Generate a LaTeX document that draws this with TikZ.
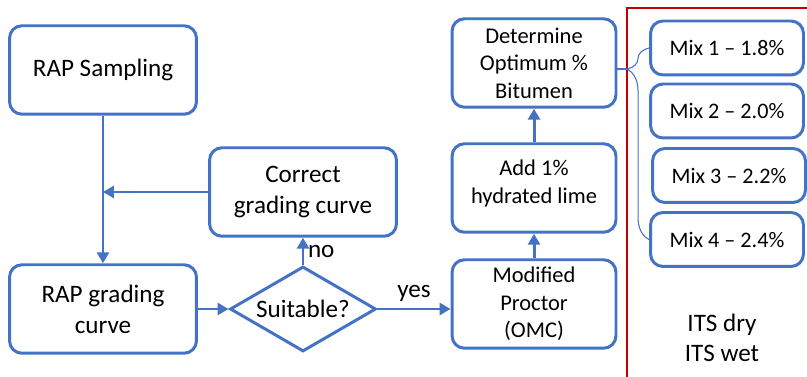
\documentclass[tikz,border=0pt]{standalone}
\usepackage{fontspec}
\setmainfont{Carlito}
\usepackage{xcolor}
\usetikzlibrary{arrows.meta}
\usetikzlibrary{shapes.geometric}
\usetikzlibrary{decorations.pathreplacing, math}
\definecolor{myblue}{RGB}{68,114,196}
\definecolor{myred}{RGB}{192,0,0}

\tikzset{
  box/.style={draw=myblue, line width=1.7pt, rounded corners=0.25cm, fill=white, align=center, inner sep=2pt},
  leftbox/.style={box, minimum width=3.74cm, minimum height=1.77cm, font=\fontsize{14.3}{17.5}\selectfont},
  rightbox/.style={box, minimum width=3.28cm, minimum height=1.77cm, font=\fontsize{12.8}{15.6}\selectfont},
  mixbox/.style={box, minimum width=3.06cm, minimum height=1.08cm, font=\fontsize{12.6}{15}\selectfont},
  flow/.style={draw=myblue, line width=1.7pt, -{Triangle[length=0.22cm,width=0.24cm]}},
}

\begin{document}
\begin{tikzpicture}[x=0.02cm, y=-0.02cm]
\useasboundingbox (0,0) rectangle (807,377);

% red frame round the test mixes
\draw[line width=1.5pt, color=myred] (807,8) -- (627,8) -- (627,377);

\node[leftbox] (samp) at (103,70) {RAP Sampling};
\node[leftbox] (corr) at (303,192) {Correct\\grading curve};
\node[leftbox] (grad) at (103,309) {RAP grading\\curve};
\node[draw=myblue, line width=1.7pt, fill=white, diamond, aspect=1.72, inner sep=0pt,
      minimum width=2.92cm, minimum height=1.7cm, font=\fontsize{14.3}{17.5}\selectfont] (suit) at (303,309) {Suitable?};

\node[rightbox] (proc) at (534,304) {Modified\\Proctor\\(OMC)};
\node[rightbox, text depth=0.25cm] (lime) at (534,188) {Add 1\%\\hydrated lime};
\node[rightbox] (opt) at (534,63) {Determine\\Optimum \%\\Bitumen};

\node[mixbox] (mix1) at (727,48) {Mix 1 -- 1.8\%};
\node[mixbox] (mix2) at (727,111) {Mix 2 -- 2.0\%};
\node[mixbox] (mix3) at (729,175.5) {Mix 3 -- 2.2\%};
\node[mixbox] (mix4) at (727,239.5) {Mix 4 -- 2.4\%};

\node[align=center, font=\fontsize{14.3}{17}\selectfont] (its) at (722,338) {ITS dry\\ITS wet};

% connectors
\draw[flow] (samp.south) -- (grad.north);
\draw[flow] (corr.west) -- (samp.south |- corr.west);
\draw[flow] (grad.east) -- (suit.west);
\draw[flow] (suit.north) -- (corr.south) node[midway, right, inner sep=2pt, font=\fontsize{14.3}{17}\selectfont]{no};
\draw[flow] (suit.east) -- (suit.east -| proc.west) node[midway, above, font=\fontsize{14.3}{17}\selectfont]{yes};
\draw[flow] (proc.north) -- (lime.south);
\draw[flow] (lime.north) -- (opt.south);

% brace to the four mixes
\coordinate (tip) at (628,69);
\draw[myblue, line width=0.6pt] (opt.east |- tip) -- (tip);
\draw[myblue, line width=0.6pt, decorate, decoration={brace, amplitude=0.44cm, aspect=0.89}]
  (mix4.west) -- (mix1.west);
\end{tikzpicture}
\end{document}
